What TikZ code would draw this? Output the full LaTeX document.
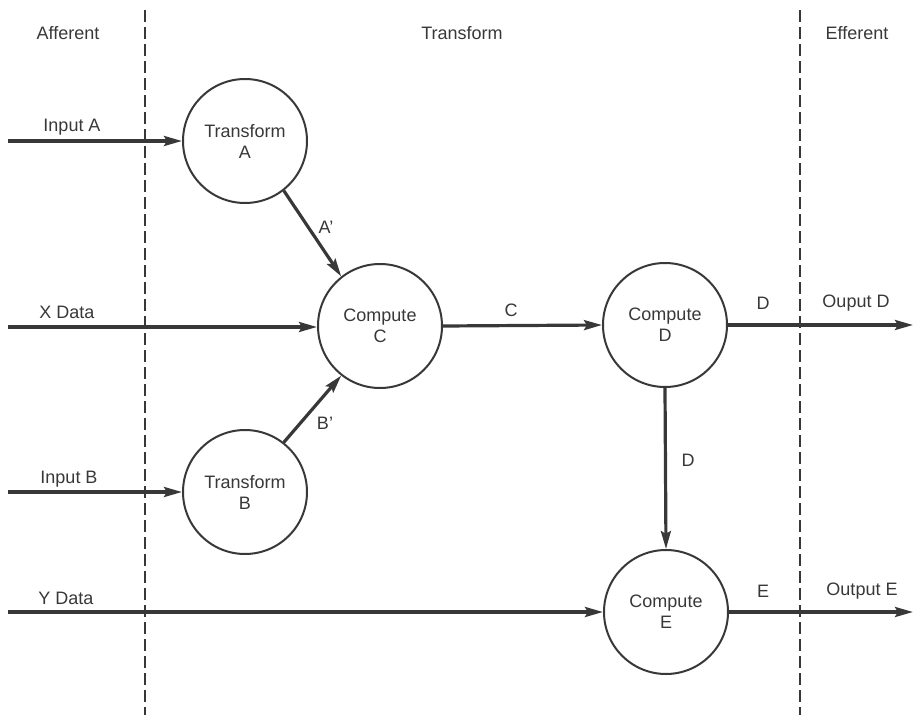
\documentclass[tikz,border=0pt]{standalone}
\usepackage{fontspec}
\setmainfont{Liberation Sans}
\usetikzlibrary{arrows.meta}
\definecolor{ink}{HTML}{383838}
\begin{document}
\begin{tikzpicture}[x=1pt,y=-1pt,
  txt/.style={font=\fontsize{18}{21}\selectfont,text=ink},
  proc/.style={circle,draw=ink,line width=2pt,minimum size=124pt,inner sep=0pt,
    align=center,txt},
  flow/.style={draw=ink,line width=3.2pt,-{Stealth[length=18pt,width=10pt,inset=3pt]}},
  lbl/.style={txt,inner sep=0pt},
  divider/.style={draw=ink,line width=1.6pt,dash pattern=on 12pt off 5pt}]
  \useasboundingbox (0,0) rectangle (914,715);

  % zone boundaries
  \coordinate (l1) at (145,10);  \coordinate (l2) at (145,715);
  \coordinate (r1) at (800,10);  \coordinate (r2) at (800,715);
  \draw[divider] (l1) -- (l2);
  \draw[divider] (r1) -- (r2);
  \node[lbl] (afferent)  at (68,33)  {Afferent};
  \node[lbl] (transform) at (462,33) {Transform};
  \node[lbl] (efferent)  at (857,33) {Efferent};

  % processes
  \node[proc] (ta) at (245,141) {Transform\\A};
  \node[proc] (cc) at (380,326) {Compute\\C};
  \node[proc] (tb) at (245,492) {Transform\\B};
  \node[proc] (cd) at (665,325) {Compute\\D};
  \node[proc] (ce) at (666,612) {Compute\\E};

  % sources and sinks
  \coordinate (ina) at (8,141);
  \coordinate (inx) at (8,327);
  \coordinate (inb) at (8,492);
  \coordinate (iny) at (8,612);
  \coordinate (outd) at (913,325);
  \coordinate (oute) at (913,612);

  % inputs
  \draw[flow] (ina) -- (ta.west);
  \node[lbl] (ina-l) at (72,127) {Input A};
  \draw[flow] (inx) -- (inx -| cc.west);
  \node[lbl] (inx-l) at (67,312) {X Data};
  \draw[flow] (inb) -- (tb.west);
  \node[lbl] (inb-l) at (69,479) {Input B};
  \draw[flow] (iny) -- (ce.west);
  \node[lbl] (iny-l) at (66,598) {Y Data};

  % internal flows
  \draw[flow] (ta.-52) -- (cc.128);
  \node[lbl] (ap) at (326,227) {A’};
  \draw[flow] (tb.52) -- (cc.-128);
  \node[lbl] (bp) at (325,423) {B’};
  \draw[flow] (cc.east) -- (cd.west);
  \node[lbl] (cl) at (511,310) {C};
  \draw[flow] (cd.south) -- (ce.north);
  \node[lbl] (dv) at (688,460) {D};

  % outputs
  \draw[flow] (cd.east) -- (outd);
  \node[lbl] (dlbl)  at (763,303) {D};
  \node[lbl] (outdl) at (856,303) {Ouput D};
  \draw[flow] (ce.east) -- (oute);
  \node[lbl] (elbl)  at (763,591) {E};
  \node[lbl] (outel) at (862,591) {Output E};
\end{tikzpicture}
\end{document}
